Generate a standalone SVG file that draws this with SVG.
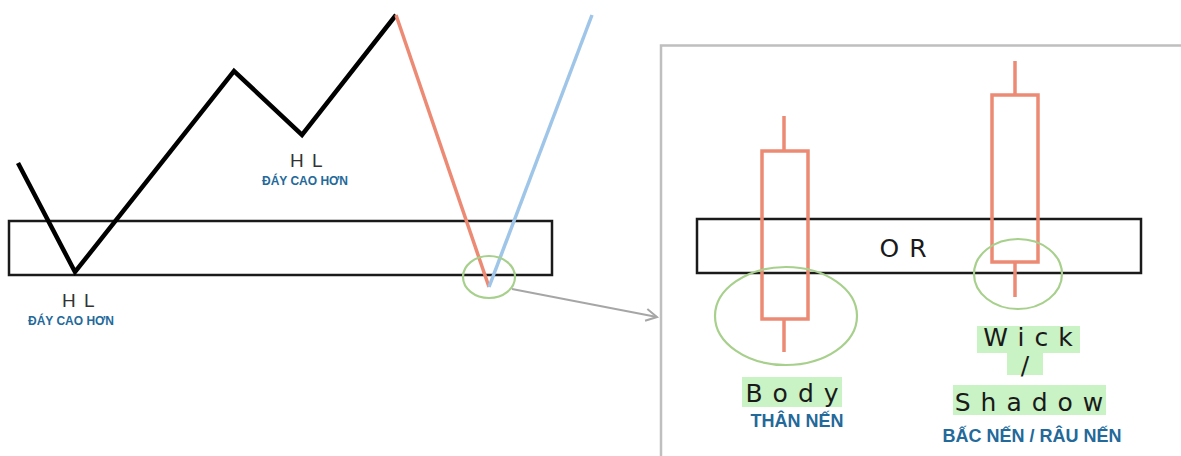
<svg xmlns="http://www.w3.org/2000/svg" width="1181" height="456" viewBox="0 0 1181 456">
<defs>
<style>
.zone{fill:none;stroke:#1a1a1a;stroke-width:2.5}
.candle{fill:none;stroke:#ec8a74;stroke-width:3.5}
.ring{fill:none;stroke:#a8d08d;stroke-width:2.2}
.hl{font-family:"Liberation Sans",Arial,sans-serif;font-size:19px;fill:#333;letter-spacing:1.5px}
.vn{font-family:"Liberation Sans Narrow","Liberation Sans",Arial,sans-serif;font-weight:bold;fill:#23699a}
.big{font-family:"DejaVu Sans","Liberation Sans",sans-serif;font-size:25px;fill:#1a1a1a;letter-spacing:10px}
.mark{fill:#c9f2c5}
</style>
<marker id="arr" markerWidth="14" markerHeight="14" refX="12" refY="7" orient="auto" markerUnits="userSpaceOnUse">
<path d="M1,1 L12,7 L1,13" fill="none" stroke="#a6a6a6" stroke-width="2"/>
</marker>
</defs>
<rect width="1181" height="456" fill="#fff"/>

<g id="left-chart">
<rect class="zone" x="9" y="221" width="543" height="54"/>
<polyline points="18,163 75,272 234,71 302,135 396,15" fill="none" stroke="#000" stroke-width="4.5" stroke-linejoin="miter"/>
<line x1="396" y1="15" x2="489" y2="287" stroke="#ec8a74" stroke-width="3.5"/>
<line x1="489" y1="287" x2="592" y2="15" stroke="#9fc5e8" stroke-width="3.5"/>
<ellipse class="ring" cx="489" cy="277" rx="26" ry="21"/>
</g>

<g id="label-hl-1">
<text class="hl" x="79" y="307" text-anchor="middle">H L</text>
<text class="vn" x="71" y="325" font-size="12" text-anchor="middle">ĐÁY CAO HƠN</text>
</g>
<g id="label-hl-2">
<text class="hl" x="307" y="167" text-anchor="middle">H L</text>
<text class="vn" x="305" y="185" font-size="12" text-anchor="middle">ĐÁY CAO HƠN</text>
</g>

<g id="connectors">
<line x1="512" y1="289" x2="657" y2="317" stroke="#a6a6a6" stroke-width="2" marker-end="url(#arr)"/>
</g>

<g id="zoom-panel">
<path d="M661,456 L661,45.5 L1181,45.5" fill="none" stroke="#bfbfbf" stroke-width="2.5"/>
<rect class="zone" x="697" y="219" width="444" height="54"/>
<text class="big" x="908" y="257" text-anchor="middle">OR</text>
</g>

<g id="candle-body">
<line class="candle" x1="784" y1="116" x2="784" y2="151"/>
<rect class="candle" x="762" y="151" width="46" height="168"/>
<line class="candle" x1="784" y1="319" x2="784" y2="352"/>
<ellipse class="ring" cx="786" cy="316" rx="71" ry="49"/>
<rect class="mark" x="742" y="377" width="100" height="30"/>
<text class="big" x="797" y="402" text-anchor="middle">Body</text>
<text class="vn" x="797" y="427" font-size="18" text-anchor="middle">THÂN NẾN</text>
</g>

<g id="candle-wick">
<line class="candle" x1="1015" y1="61" x2="1015" y2="95"/>
<rect class="candle" x="992" y="95" width="46" height="167"/>
<line class="candle" x1="1015" y1="262" x2="1015" y2="297"/>
<ellipse class="ring" cx="1018" cy="274" rx="44" ry="35"/>
<rect class="mark" x="977" y="326" width="103" height="27"/>
<rect class="mark" x="1007" y="353" width="36" height="22"/>
<rect class="mark" x="953" y="385" width="153" height="30"/>
<text class="big" x="1033" y="346" text-anchor="middle">Wick</text>
<text class="big" x="1030" y="374" font-size="21" text-anchor="middle">/</text>
<text class="big" x="1034" y="411" text-anchor="middle">Shadow</text>
<text class="vn" x="1032" y="442" font-size="18" text-anchor="middle">BẤC NẾN / RÂU NẾN</text>
</g>
</svg>
